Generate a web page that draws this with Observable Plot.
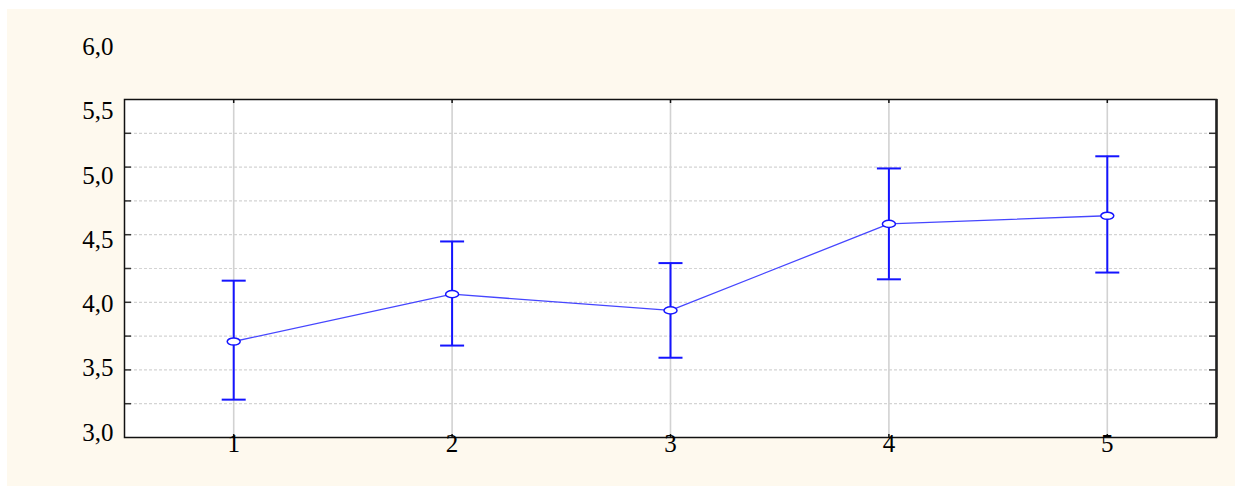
<!DOCTYPE html>
<html>
<head>
<meta charset="utf-8">
<script src="https://cdn.jsdelivr.net/npm/d3@7"></script>
<script src="https://cdn.jsdelivr.net/npm/@observablehq/plot@0.6"></script>
<style>
  html, body { margin: 0; padding: 0; background: #ffffff; overflow: hidden; }
  #wrap { position: relative; width: 1235px; height: 486px; }
  #panel { position: absolute; left: 7px; top: 9px; width: 1228px; height: 477px; background: #fef9ee; }
  #chart { position: absolute; left: 0; top: 0; }
  #chart svg text { font-family: "Liberation Serif" !important; }
</style>
</head>
<body>
<div id="wrap"><div id="panel"></div><div id="chart"></div></div>
<script>
// ---- data ----
const categories = [1, 2, 3, 4, 5];
const means = [3.71, 4.06, 3.94, 4.58, 4.64];
const upper = [4.16, 4.45, 4.29, 4.99, 5.08];
const lower = [3.28, 3.68, 3.59, 4.17, 4.22];
const yTickLabels = [3.0, 3.5, 4.0, 4.5, 5.0, 5.5, 6.0];
const gridValues = [3.25, 3.5, 3.75, 4.0, 4.25, 4.5, 4.75, 5.0, 5.25];

const rows = categories.map((c, i) => ({cat: c, mean: means[i], lo: lower[i], hi: upper[i]}));

// ---- layout ----
const W = 1235, H = 486;
const mL = 124, mR = 19, mT = 99, mB = 49;
const plotW = W - mL - mR, plotH = H - mT - mB;
const FONT = "Liberation Serif";

// custom symbols
const capSymbol = {
  draw(ctx, size) {
    const r = Math.sqrt(size / Math.PI);
    ctx.moveTo(-r, 0); ctx.lineTo(r, 0);
  }
};
const ellipseSymbol = {
  draw(ctx, size) {
    const r = Math.sqrt(size / Math.PI);
    const rx = r, ry = r * 0.55, k = 0.5523;
    ctx.moveTo(rx, 0);
    ctx.bezierCurveTo(rx, ry * k, rx * k, ry, 0, ry);
    ctx.bezierCurveTo(-rx * k, ry, -rx, ry * k, -rx, 0);
    ctx.bezierCurveTo(-rx, -ry * k, -rx * k, -ry, 0, -ry);
    ctx.bezierCurveTo(rx * k, -ry, rx, -ry * k, rx, 0);
    ctx.closePath();
  }
};

// y-axis labels in the original are spread slightly differently from the ticks
const labelPos = v => 0.1828 + 0.9508 * v;

const chart = Plot.plot({
  width: W,
  height: H,
  marginLeft: mL,
  marginRight: mR,
  marginTop: mT,
  marginBottom: mB,
  style: {background: "transparent", fontFamily: FONT, overflow: "visible"},
  x: {type: "linear", domain: [0.5, 5.5], axis: null},
  y: {type: "linear", domain: [3, 5.5], axis: null},
  marks: [
    Plot.frame({fill: "white", stroke: "none"}),
    // horizontal dashed grid
    Plot.ruleY(gridValues, {stroke: "#d4d4d4", strokeWidth: 1.2, strokeDasharray: "3,2"}),
    // vertical grid
    Plot.ruleX(categories, {stroke: "#d2d2d2", strokeWidth: 1.6}),
    // minor ticks on left/right
    Plot.ruleY(gridValues, {stroke: "#333", strokeWidth: 1.5, insetRight: plotW - 7}),
    Plot.ruleY(gridValues, {stroke: "#333", strokeWidth: 1.5, insetLeft: plotW - 7}),
    // ticks top/bottom
    Plot.ruleX(categories, {stroke: "#111", strokeWidth: 1.5, insetBottom: plotH - 4}),
    Plot.ruleX(categories, {stroke: "#111", strokeWidth: 1.5, insetTop: plotH - 3}),
    // frame
    Plot.frame({stroke: "#111", strokeWidth: 1.5}),
    Plot.ruleX([5.5], {stroke: "#222", strokeWidth: 2.5}),
    // connecting line
    Plot.line(rows, {x: "cat", y: "mean", stroke: "#4646ff", strokeWidth: 1.3}),
    // error bars
    Plot.ruleX(rows, {x: "cat", y1: "lo", y2: "hi", stroke: "#1414ff", strokeWidth: 2}),
    Plot.dot(rows, {x: "cat", y: "lo", symbol: capSymbol, r: 12, stroke: "#1414ff", strokeWidth: 2, fill: "none"}),
    Plot.dot(rows, {x: "cat", y: "hi", symbol: capSymbol, r: 12, stroke: "#1414ff", strokeWidth: 2, fill: "none"}),
    // means
    Plot.dot(rows, {x: "cat", y: "mean", symbol: ellipseSymbol, r: 6.5, stroke: "#1414ff", strokeWidth: 1.5, fill: "white"}),
    // y labels
    Plot.text(yTickLabels, {
      y: d => labelPos(d),
      text: d => d.toFixed(1).replace(".", ","),
      frameAnchor: "left", dx: -11, textAnchor: "end",
      fontSize: 25, fontFamily: FONT, fill: "#000"
    }),
    // x labels
    Plot.text(categories, {
      x: d => d,
      text: d => String(d),
      frameAnchor: "bottom", dy: 14,
      fontSize: 25, fontFamily: FONT, fill: "#000"
    })
  ]
});
document.getElementById("chart").appendChild(chart);
</script>
</body>
</html>
